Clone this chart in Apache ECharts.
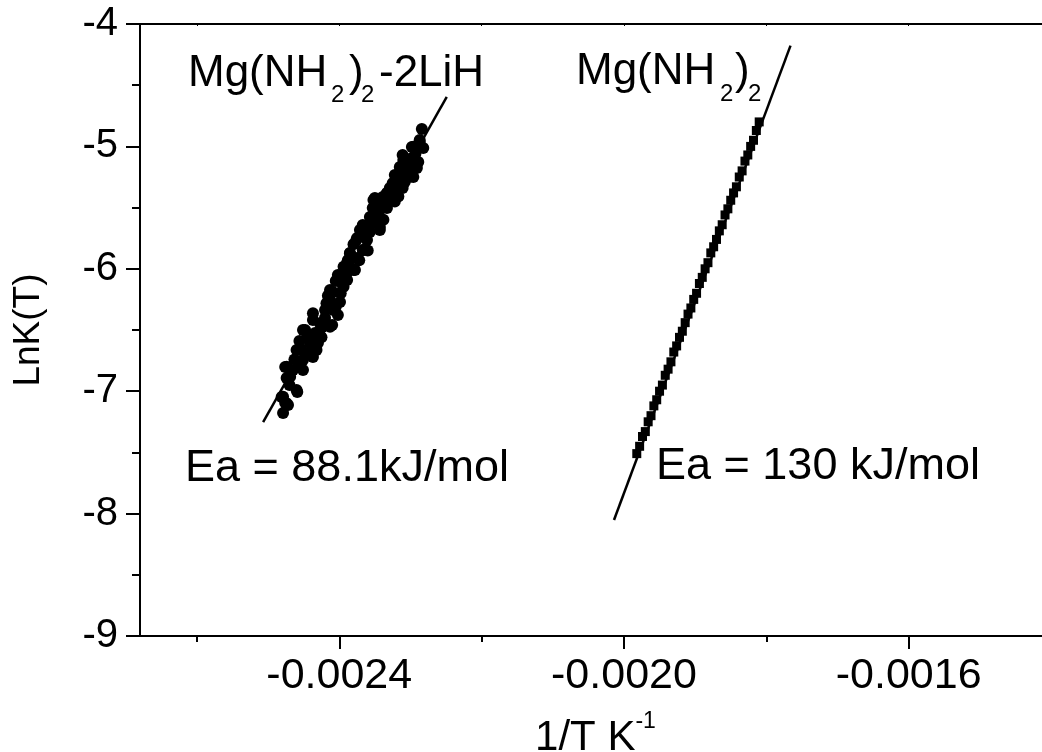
<!DOCTYPE html>
<html>
<head>
<meta charset="utf-8">
<script src="https://cdn.jsdelivr.net/npm/echarts@6/dist/echarts.min.js"></script>
<style>
  html, body { margin: 0; padding: 0; background: #fff; }
  #chart { width: 1042px; height: 752px; }
</style>
</head>
<body>
<div id="chart"></div>
<script>
// x = 1/T, y = LnK(T)
const lihPoints = [
  [-0.002479, -7.178], [-0.002476, -7.096], [-0.002472, -7.113], [-0.002481, -7.047],
  [-0.002459, -7.007], [-0.002474, -6.892], [-0.002476, -6.802], [-0.002465, -6.827],
  [-0.002455, -6.802], [-0.002451, -6.745], [-0.002455, -6.647], [-0.002437, -6.721],
  [-0.002448, -6.500], [-0.002438, -6.582], [-0.002430, -6.606], [-0.002434, -6.525],
  [-0.002437, -6.418], [-0.002424, -6.475], [-0.002420, -6.337], [-0.002410, -6.459],
  [-0.002413, -6.255], [-0.002402, -6.377], [-0.002409, -6.190], [-0.002399, -6.271],
  [-0.002402, -6.051], [-0.002389, -6.092], [-0.002385, -5.985], [-0.002395, -6.133],
  [-0.002378, -6.010], [-0.002284, -4.858], [-0.002287, -4.964], [-0.002282, -5.013],
  [-0.002298, -5.005], [-0.002311, -5.070], [-0.002289, -5.127], [-0.002304, -5.152],
  [-0.002315, -5.168], [-0.002291, -5.176], [-0.002312, -5.217], [-0.002322, -5.234],
  [-0.002296, -5.250], [-0.002308, -5.291], [-0.002319, -5.291], [-0.002311, -5.340],
  [-0.002329, -5.340], [-0.002319, -5.373], [-0.002333, -5.381], [-0.002312, -5.315],
  [-0.002339, -5.413], [-0.002350, -5.422], [-0.002326, -5.438], [-0.002340, -5.479],
  [-0.002353, -5.503], [-0.002333, -5.503], [-0.002346, -5.544], [-0.002357, -5.577],
  [-0.002367, -5.642], [-0.002343, -5.658], [-0.002371, -5.683], [-0.002357, -5.699],
  [-0.002375, -5.748], [-0.002361, -5.765], [-0.002367, -5.846], [-0.002385, -5.871],
  [-0.002375, -5.912], [-0.002389, -5.953],
  [-0.002333, -5.383], [-0.002352, -5.438], [-0.002343, -5.520], [-0.002362, -5.656],
  [-0.002343, -5.683], [-0.002376, -5.765], [-0.002366, -5.846], [-0.002385, -5.873],
  [-0.002394, -5.983], [-0.002380, -6.010], [-0.002399, -6.065], [-0.002413, -6.173],
  [-0.002394, -6.146], [-0.002418, -6.282], [-0.002408, -6.337], [-0.002437, -6.364],
  [-0.002427, -6.445], [-0.002451, -6.500], [-0.002413, -6.473], [-0.002441, -6.609],
  [-0.002460, -6.663], [-0.002432, -6.663], [-0.002474, -6.800], [-0.002451, -6.827],
  [-0.002469, -6.881], [-0.002460, -6.990], [-0.002479, -7.045], [-0.002474, -7.099],
  [-0.002310, -5.111], [-0.002296, -5.002], [-0.002287, -4.948], [-0.002301, -5.247],
  [-0.002319, -5.356],
  [-0.002445, -6.560], [-0.002428, -6.530], [-0.002420, -6.400], [-0.002405, -6.310],
  [-0.002416, -6.220], [-0.002398, -6.200], [-0.002390, -6.040], [-0.002372, -5.930],
  [-0.002380, -5.800], [-0.002364, -5.720], [-0.002350, -5.600], [-0.002337, -5.470],
  [-0.002325, -5.300], [-0.002300, -5.100], [-0.002293, -5.060], [-0.002305, -5.200],
  [-0.002470, -6.950], [-0.002463, -6.740], [-0.002445, -6.690], [-0.002425, -6.560],
  [-0.002456, -6.590], [-0.002405, -6.100], [-0.002388, -5.930], [-0.002360, -5.850],
  [-0.002356, -5.620], [-0.002338, -5.600], [-0.002322, -5.450], [-0.002317, -5.410]
];
const lihFit = [[-0.002507, -7.252], [-0.002249, -4.596]];

const mgPoints = [
  [-0.001982, -7.51], [-0.001978, -7.45], [-0.001974, -7.37], [-0.001970, -7.33],
  [-0.001966, -7.25], [-0.001962, -7.20], [-0.001958, -7.12], [-0.001954, -7.07],
  [-0.001950, -7.00], [-0.001946, -6.95], [-0.001942, -6.87], [-0.001938, -6.82],
  [-0.001934, -6.76], [-0.001930, -6.68], [-0.001926, -6.63], [-0.001922, -6.56],
  [-0.001918, -6.51], [-0.001914, -6.44], [-0.001910, -6.37], [-0.001906, -6.32],
  [-0.001902, -6.25], [-0.001898, -6.20], [-0.001894, -6.12], [-0.001890, -6.07],
  [-0.001886, -6.00], [-0.001882, -5.95], [-0.001878, -5.87], [-0.001874, -5.82],
  [-0.001870, -5.76], [-0.001866, -5.69], [-0.001862, -5.64], [-0.001858, -5.56],
  [-0.001854, -5.51], [-0.001850, -5.44], [-0.001846, -5.38], [-0.001842, -5.33],
  [-0.001838, -5.25], [-0.001834, -5.20], [-0.001830, -5.12], [-0.001826, -5.07],
  [-0.001822, -5.00], [-0.001818, -4.95], [-0.001814, -4.87], [-0.001810, -4.80]
];
const mgFit = [[-0.002014, -8.052], [-0.001766, -4.177]];

const xMajor = [-0.0024, -0.0020, -0.0016];
const xMinor = [-0.0026, -0.0022, -0.0018, -0.0014];

const FONT = '"Liberation Sans", Arial, sans-serif';

const chart = echarts.init(document.getElementById('chart'), null, { renderer: 'canvas' });

const axisLine = { show: true, lineStyle: { color: '#000', width: 2 } };

function txt(x, y, text, size) {
  return {
    type: 'text', x, y,
    style: { text, font: size + 'px ' + FONT, fill: '#000', verticalAlign: 'middle' }
  };
}

chart.setOption({
  backgroundColor: '#fff',
  animation: false,
  grid: { left: 140, top: 24, right: -9, bottom: 116, containLabel: false, outerBoundsMode: 'none' },
  xAxis: [
    {
      type: 'value', position: 'bottom', min: -0.00268, max: -0.0014,
      axisLine,
      axisTick: { show: true, customValues: xMajor, length: 13, lineStyle: { color: '#000', width: 2 } },
      axisLabel: {
        customValues: xMajor, margin: 19, fontSize: 43, fontFamily: FONT, color: '#000',
        formatter: v => v.toFixed(4)
      },
      splitLine: { show: false },
      name: '{a|1/T K}{b|-1}',
      nameLocation: 'middle',
      nameGap: 74,
      nameTextStyle: {
        rich: {
          a: { fontSize: 42, lineHeight: 56, fontFamily: FONT, color: '#000' },
          b: { fontSize: 23, lineHeight: 22, fontFamily: FONT, color: '#000', verticalAlign: 'top' }
        }
      }
    },
    {
      type: 'value', position: 'bottom', min: -0.00268, max: -0.0014,
      axisLine: { show: false },
      axisTick: { show: true, customValues: xMinor, length: 6, lineStyle: { color: '#000', width: 2 } },
      axisLabel: { show: false },
      splitLine: { show: false }
    },
    {
      type: 'value', position: 'top', min: -0.00268, max: -0.0014,
      axisLine,
      axisTick: { show: true, inside: true, customValues: xMajor.concat(xMinor), length: 2, lineStyle: { color: '#000', width: 1 } },
      axisLabel: { show: false },
      splitLine: { show: false }
    }
  ],
  yAxis: {
    type: 'value', min: -9, max: -4, interval: 1,
    axisLine,
    axisTick: { show: true, length: 14, lineStyle: { color: '#000', width: 2 } },
    minorTick: { show: true, splitNumber: 2, length: 8, lineStyle: { color: '#000', width: 2 } },
    axisLabel: { fontSize: 40, fontFamily: FONT, color: '#000', margin: 22 },
    splitLine: { show: false },
    minorSplitLine: { show: false },
    name: 'LnK(T)',
    nameLocation: 'middle',
    nameGap: 93,
    nameTextStyle: { fontSize: 37, fontFamily: FONT, color: '#000' }
  },
  series: [
    {
      type: 'scatter', data: lihPoints, symbol: 'circle', symbolSize: 12,
      itemStyle: { color: '#000', opacity: 1 }
    },
    {
      type: 'line', data: lihFit, showSymbol: false,
      lineStyle: { color: '#000', width: 2.5 }
    },
    {
      type: 'scatter', data: mgPoints, symbol: 'rect', symbolSize: 9,
      itemStyle: { color: '#000', opacity: 1 }
    },
    {
      type: 'line', data: mgFit, showSymbol: false,
      lineStyle: { color: '#000', width: 2.5 }
    }
  ],
  graphic: [
    // Mg(NH2)2-2LiH
    txt(188, 74, 'Mg(NH', 44),
    txt(331, 95, '2', 24),
    txt(349, 74, ')', 44),
    txt(361, 95, '2', 24),
    txt(379, 74, '-2LiH', 44),
    // Mg(NH2)2
    txt(576, 72, 'Mg(NH', 44),
    txt(720, 94, '2', 24),
    txt(735, 72, ')', 44),
    txt(748, 94, '2', 24),
    // activation energies
    txt(185, 469, 'Ea = 88.1kJ/mol', 45),
    txt(656, 467, 'Ea = 130 kJ/mol', 45)
  ]
});
</script>
</body>
</html>
